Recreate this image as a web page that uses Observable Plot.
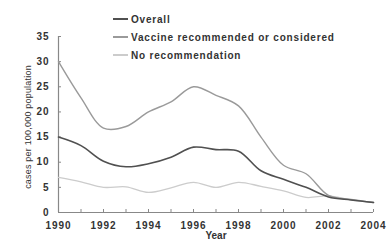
<!DOCTYPE html>
<html>
<head>
<meta charset="utf-8">
<script src="https://cdn.jsdelivr.net/npm/d3@7"></script>
<script src="https://cdn.jsdelivr.net/npm/@observablehq/plot@0.6"></script>
<style>
  html, body { margin: 0; padding: 0; background: #fff; }
  #wrap { position: relative; width: 389px; height: 242px; font-family: "Liberation Sans", Arial, sans-serif; }
  #legend { position: absolute; left: 113px; top: 10px; }
  .row { display: flex; align-items: center; height: 18px; font-weight: bold; font-size: 10px; letter-spacing: 0.8px; color: #333; }
  .sw { width: 15px; height: 0; margin-right: 3px; border-top-style: solid; }
  #ylabel { position: absolute; left: 28px; top: 127px; transform: translate(-50%, -50%) rotate(-90deg); white-space: nowrap; font-size: 9px; letter-spacing: 0.2px; color: #333; line-height: 1; }
</style>
</head>
<body>
<div id="wrap"><div id="legend"></div><div id="ylabel"></div></div>
<script>
const years = [1990,1991,1992,1993,1994,1995,1996,1997,1998,1999,2000,2001,2002,2003,2004];
const overall = [15,13.3,10.2,9.1,9.7,11,13,12.5,12.2,8.3,6.6,5,3.1,2.5,2];
const vaccine = [30,22.8,16.8,17.1,20,22,25,23.3,21.2,15,9.4,7.7,3.4,2.6,2];
const noRec = [7,6.1,5,5.1,4,4.9,6,5,6,5.2,4.3,3,3.3,2.5,2];
const seriesNames = ["Overall","Vaccine recommended or considered","No recommendation"];
const seriesColors = ["#505050","#9a9a9a","#cccccc"];
const seriesWidths = [1.6,1.4,1.3];
const yTicks = [0,5,10,15,20,25,30,35];
const xLabelTicks = [1990,1992,1994,1996,1998,2000,2002,2004];
const yLabel = "cases per 100,000 population";
const xLabel = "Year";

const W = 389, H = 242, mL = 58, mR = 16, mT = 36, mB = 30;
const seriesValues = [overall, vaccine, noRec];
const rows = [];
seriesNames.forEach((name, i) => years.forEach((yr, j) => rows.push({series: name, year: yr, value: seriesValues[i][j]})));

const tickFont = {fontWeight: "bold", fontSize: 10, fill: "#333"};
const chart = Plot.plot({
  width: W, height: H,
  marginLeft: mL, marginRight: mR, marginTop: mT, marginBottom: mB,
  style: {fontFamily: "Liberation Sans, Arial, sans-serif", background: "#fff", overflow: "visible"},
  x: {domain: [1990, 2004], axis: null},
  y: {domain: [0, 35], axis: null},
  marks: [
    Plot.ruleX([1990], {stroke: "#888", strokeWidth: 1.2}),
    Plot.ruleY([0], {stroke: "#888", strokeWidth: 1.2}),
    Plot.tickY(yTicks, {y: d => d, stroke: "#888", insetRight: W - mL - mR - 3}),
    Plot.tickX(years, {x: d => d, stroke: "#888", insetTop: H - mT - mB - 3}),
    Plot.axisY({ticks: yTicks, tickSize: 0, tickPadding: 9, tickFormat: d => d, label: null, ...tickFont}),
    Plot.axisX({ticks: xLabelTicks, tickSize: 0, tickPadding: 9, tickFormat: d3.format("d"), label: null, ...tickFont}),
    ...seriesNames.map((name, i) =>
      Plot.line(rows.filter(r => r.series === name), {x: "year", y: "value", stroke: seriesColors[i], strokeWidth: seriesWidths[i], curve: "catmull-rom"})
    ).reverse(),
    Plot.text([xLabel], {frameAnchor: "bottom", dy: 26, fontSize: 10, fontWeight: "bold", fill: "#333", text: d => d})
  ]
});
chart.querySelectorAll("text").forEach(t => { if (/^\d{1,4}$/.test(t.textContent)) t.style.letterSpacing = "1px"; });
document.getElementById("wrap").appendChild(chart);
document.getElementById("ylabel").textContent = yLabel;

const legend = document.getElementById("legend");
seriesNames.forEach((name, i) => {
  const row = document.createElement("div");
  row.className = "row";
  const sw = document.createElement("span");
  sw.className = "sw";
  sw.style.borderTopColor = seriesColors[i];
  sw.style.borderTopWidth = "2px";
  row.appendChild(sw);
  row.appendChild(document.createTextNode(name));
  legend.appendChild(row);
});
</script>
</body>
</html>
